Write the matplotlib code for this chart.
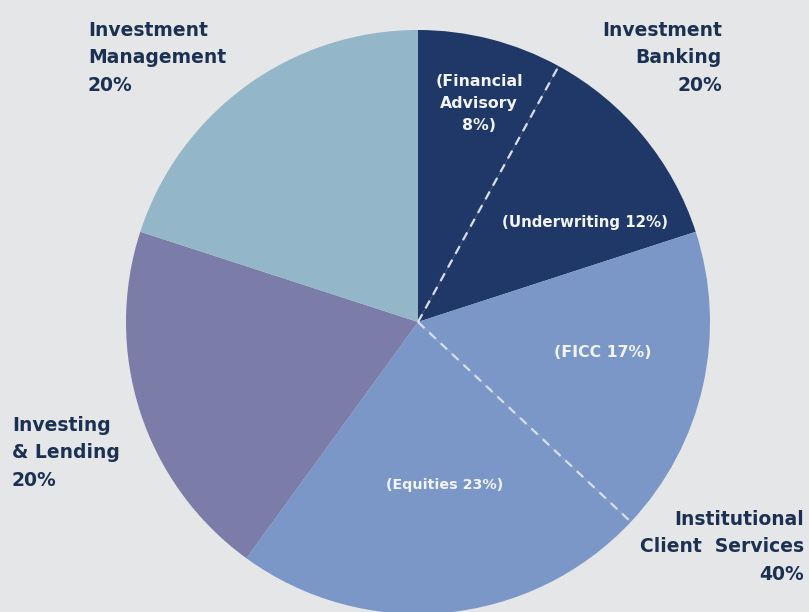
import numpy as np
import matplotlib
matplotlib.use("Agg")
import matplotlib.pyplot as plt

# Data (clockwise from 12 o'clock)
segments = ["Financial Advisory", "Underwriting", "FICC", "Equities",
            "Investing & Lending", "Investment Management"]
values = [8, 12, 17, 23, 20, 20]
colors = ["#1F3867", "#1F3867", "#7A97C7", "#7A97C7", "#7B7CA8", "#93B6C9"]
inner_labels = ["(Financial\nAdvisory\n8%)", "(Underwriting 12%)", "(FICC 17%)", "(Equities 23%)"]
# dashed sub-division lines after these segment indices
dashed_after = [0, 2]

W, H = 809, 612
fig = plt.figure(figsize=(W / 100, H / 100), dpi=100)
bg = "#E5E6E8"
fig.patch.set_facecolor(bg)
ax = fig.add_axes([0, 0, 1, 1])
ax.set_facecolor(bg)

cx, cy, r = 418, H - 322, 292
ax.pie(values, colors=colors, startangle=90, counterclock=False,
       center=(cx, cy), radius=r, frame=True,
       wedgeprops=dict(linewidth=0))
ax.set_xlim(0, W)
ax.set_ylim(0, H)
ax.set_aspect("equal")
ax.axis("off")

cum = np.cumsum(values)
total = float(sum(values))
for i in dashed_after:
    ang = np.deg2rad(90 - 360 * cum[i] / total)
    ax.plot([cx, cx + r * np.cos(ang)], [cy, cy + r * np.sin(ang)],
            color="#D9DFEA", lw=1.6, ls=(0, (4, 3)), solid_capstyle="butt")

dark = "#1C3152"
fs = 13.5
ls = 1.58
# va='baseline' aligns the last line's baseline
ax.text(88, H - 91, "Investment\nManagement\n20%", ha="left", va="baseline",
        fontsize=fs, fontweight="bold", color=dark, linespacing=ls)
ax.text(722, H - 91, "Investment\nBanking\n20%", ha="right", va="baseline",
        fontsize=fs, fontweight="bold", color=dark, linespacing=ls, multialignment="right")
ax.text(12, H - 486, "Investing\n& Lending\n20%", ha="left", va="baseline",
        fontsize=fs, fontweight="bold", color=dark, linespacing=ls)
ax.text(804, H - 580, "Institutional\nClient  Services\n40%", ha="right", va="baseline",
        fontsize=fs, fontweight="bold", color=dark, linespacing=ls, multialignment="right")

white = "#F2F4F8"
ax.text(479, H - 130, inner_labels[0], ha="center", va="baseline",
        fontsize=11.3, fontweight="bold", color=white, linespacing=1.6)
ax.text(585, H - 227, inner_labels[1], ha="center", va="baseline",
        fontsize=10.8, fontweight="bold", color=white)
ax.text(603, H - 357, inner_labels[2], ha="center", va="baseline",
        fontsize=11.3, fontweight="bold", color=white)
ax.text(445, H - 489, inner_labels[3], ha="center", va="baseline",
        fontsize=10.3, fontweight="bold", color=white)

fig.savefig("out.png", dpi=100, facecolor=bg)
